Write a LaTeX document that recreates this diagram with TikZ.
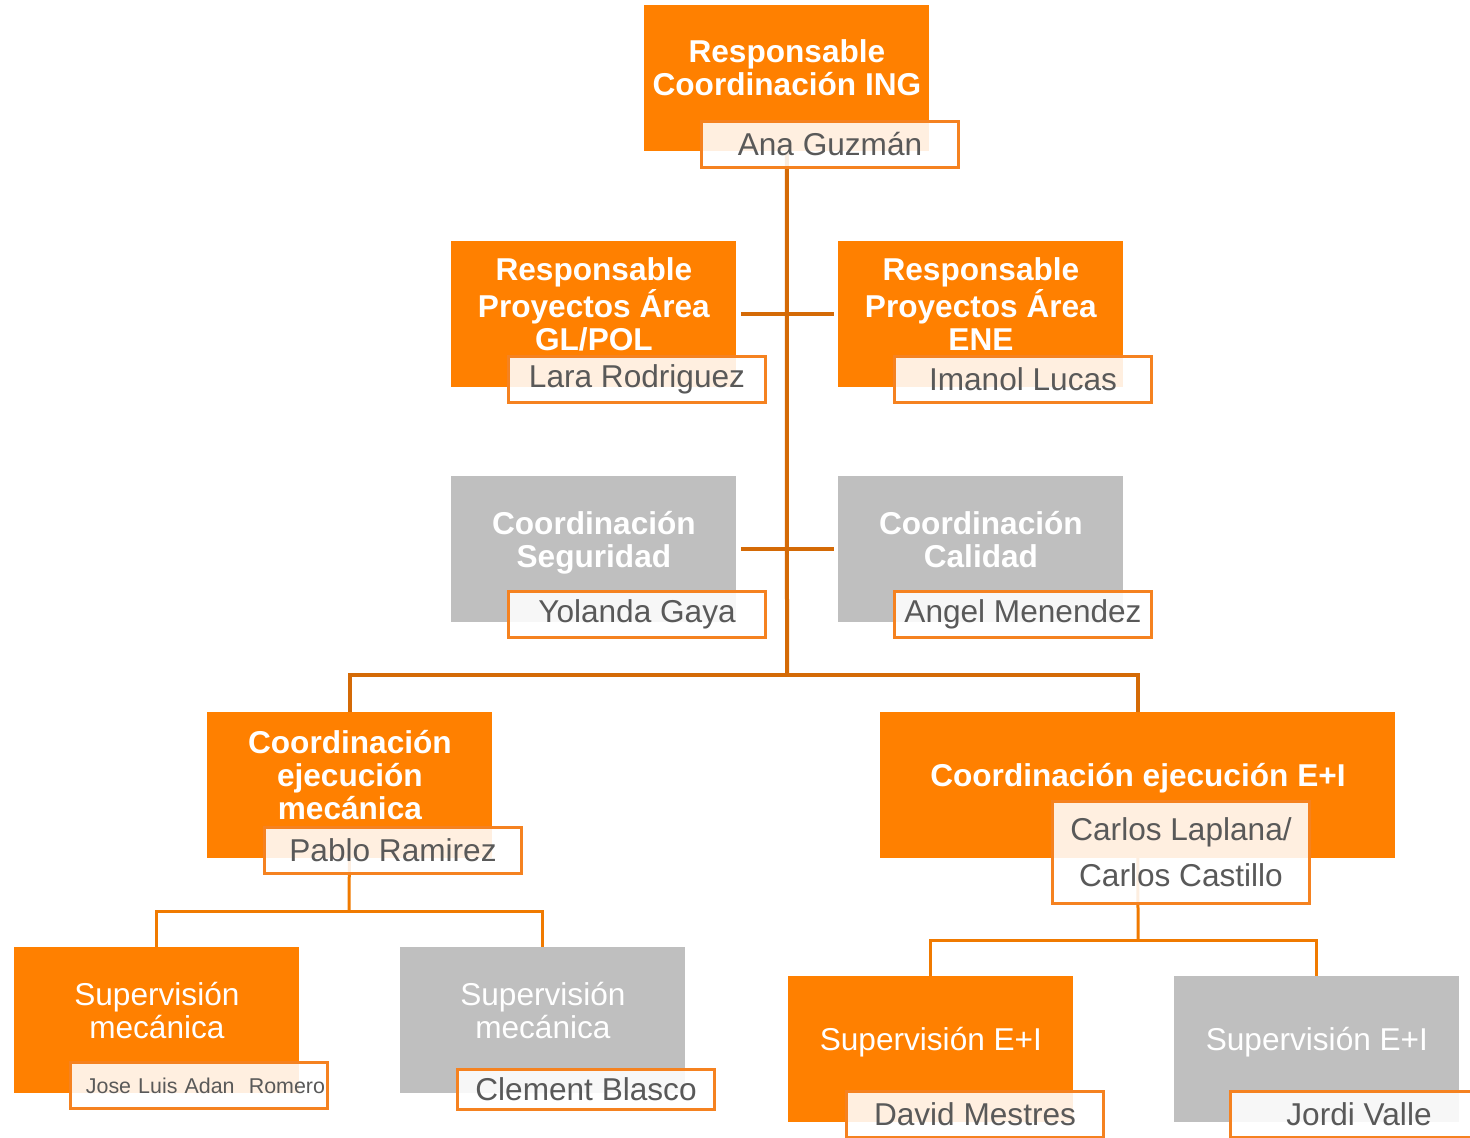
\documentclass[tikz,border=0pt]{standalone}
\usepackage{fontspec}
\setmainfont{Liberation Sans}
\usetikzlibrary{positioning}
\pgfdeclarelayer{background}
\pgfsetlayers{background,main}
\definecolor{chartorange}{HTML}{FF8000}
\definecolor{chartgray}{HTML}{BFBFBF}
\definecolor{linedark}{HTML}{D46A06}
\definecolor{lineorange}{HTML}{F07A00}
\definecolor{nameline}{HTML}{F58220}
\definecolor{namegray}{HTML}{595959}

\begin{document}
\begin{tikzpicture}[
  x=0.5pt, y=-0.5pt,
  obox/.style={rectangle, fill=chartorange, minimum width=142.5pt, minimum height=73pt, inner sep=0pt, anchor=north west},
  gbox/.style={obox, fill=chartgray},
  boxtitle/.style={text=white, align=center, inner sep=0pt, font=\bfseries\fontsize{15.8}{16.5}\selectfont,
    execute at begin node=\strut, execute at end node=\strut},
  subtitle/.style={boxtitle, font=\fontsize{15.8}{16.5}\selectfont},
  namebox/.style={rectangle, draw=nameline, line width=1.5pt, fill=white, fill opacity=0.88, text opacity=1, text=namegray, font=\fontsize{15.8}{16.5}\selectfont, minimum width=128.5pt, minimum height=23pt, inner sep=0pt, anchor=north west},
  trunk/.style={draw=linedark, line width=2pt},
  branch/.style={draw=lineorange, line width=1.5pt}
]
\useasboundingbox (0,0) rectangle (1470,1138);
\clip (0,0) rectangle (1470,1138);

% Top
\node[obox] (ing) at (644,5) {};
\node[boxtitle] (ingT) at ([yshift=2.75pt]ing.center) {Responsable\\Coordinación ING};
\node[namebox] (ingN) at (700,120) {Ana Guzmán};

% Area managers
\node[obox] (gl) at (451,241) {};
\node[boxtitle] (glT) at ([yshift=2.75pt]gl.center) {Responsable\\Proyectos Área\\GL/POL};
\node[namebox] (glN) at (507,355) {Lara Rodriguez};

\node[obox] (ene) at (838,241) {};
\node[boxtitle] (eneT) at ([yshift=2.75pt]ene.center) {Responsable\\Proyectos Área\\ENE};
\node[namebox] (eneN) at (893,355) {Imanol Lucas};

% Safety and quality
\node[gbox] (seg) at (451,476) {};
\node[boxtitle] (segT) at ([yshift=2.75pt]seg.center) {Coordinación\\Seguridad};
\node[namebox] (segN) at (507,590) {Yolanda Gaya};

\node[gbox] (cal) at (838,476) {};
\node[boxtitle] (calT) at ([yshift=2.75pt]cal.center) {Coordinación\\Calidad};
\node[namebox] (calN) at (893,590) {Angel Menendez};

% Execution
\node[obox] (mec) at (207,712) {};
\node[boxtitle] (mecT) at ([yshift=2.75pt]mec.center) {Coordinación\\ejecución\\mecánica};
\node[namebox] (mecN) at (263,826) {Pablo Ramirez};

\node[obox, minimum width=257.5pt] (ei) at (880,712) {};
\node[boxtitle] (eiT) at ([yshift=2.75pt]ei.center) {Coordinación ejecución E+I};
\node[namebox, minimum height=51pt, align=center, font=\fontsize{15.8}{23}\selectfont] (eiN) at (1051,800) {Carlos Laplana/\\Carlos Castillo};

% Supervision
\node[obox] (supA) at (14,947) {};
\node[subtitle] (supAT) at ([yshift=2.75pt]supA.center) {Supervisión\\mecánica};
\node[namebox, text width=126pt, align=right, font=\fontsize{10.7}{12}\selectfont] (supAN) at (69,1061) {Jose Luis Adan~~Romero};

\node[gbox] (supB) at (400,947) {};
\node[subtitle] (supBT) at ([yshift=2.75pt]supB.center) {Supervisión\\mecánica};
\node[namebox, minimum height=20pt] (supBN) at (456,1068) {Clement Blasco};

\node[obox] (supC) at (788,976) {};
\node[subtitle] (supCT) at ([yshift=2.75pt]supC.center) {Supervisión E+I};
\node[namebox] (supCN) at (845,1090) {David Mestres};

\node[gbox] (supD) at (1174,976) {};
\node[subtitle] (supDT) at ([yshift=2.75pt]supD.center) {Supervisión E+I};
\node[namebox] (supDN) at (1229,1090) {Jordi Valle};

% Connectors
\coordinate (split) at (787,675);
\coordinate (mecsplit) at (349,911);
\coordinate (eisplit) at (1138,940);
\begin{pgfonlayer}{background}
  \draw[trunk] (ing.south) -- (split);
  \draw[trunk] ([xshift=2pt]gl.east) -- ([xshift=-2pt]ene.west);
  \draw[trunk] ([xshift=2pt]seg.east) -- ([xshift=-2pt]cal.west);
  \draw[trunk] (mec.north) |- (split) -| (ei.north);
  \draw[branch] (mec.center) -- (mecsplit);
  \draw[branch] (supA.north) |- (mecsplit) -| (supB.north);
  \draw[branch] (ei.center) -- (eisplit);
  \draw[branch] (supC.north) |- (eisplit) -| (supD.north);
\end{pgfonlayer}
\end{tikzpicture}
\end{document}
